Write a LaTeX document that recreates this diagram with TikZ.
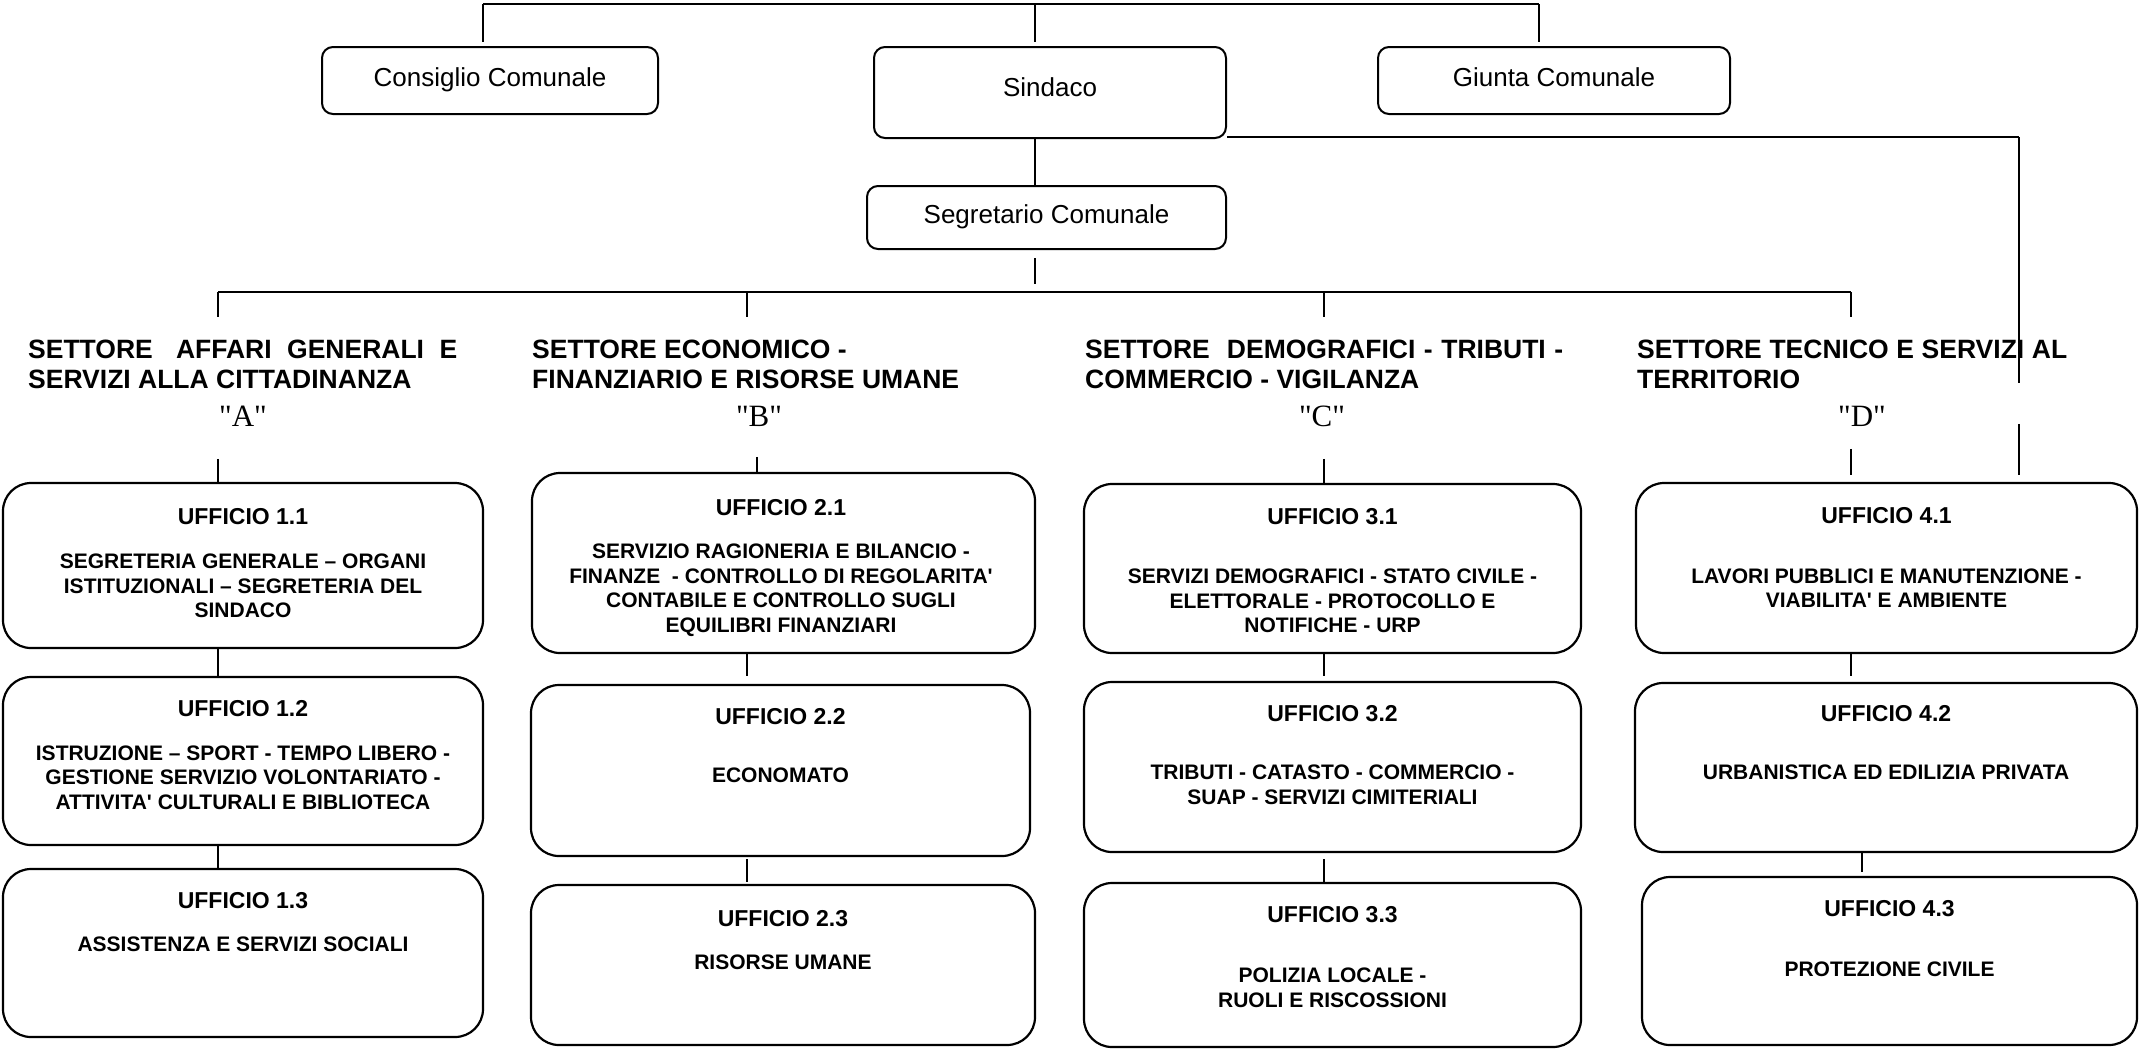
\documentclass[tikz,border=0pt]{standalone}
\usepackage{fontspec}
\setmainfont{Liberation Sans}
\newfontfamily\lserif{Liberation Serif}
\usetikzlibrary{calc}
\begin{document}
\begin{tikzpicture}[x=1pt,y=-1pt,
  frame/.style={draw, line width=2pt, rounded corners=11pt, inner sep=0pt},
  office/.style={draw, line width=2.2pt, rounded corners=28pt, inner sep=0pt},
  toptext/.style={font=\fontsize{26}{30}\selectfont, anchor=base, inner sep=0pt},
  ttl/.style={font=\fontsize{23}{26}\selectfont\bfseries, anchor=north, inner sep=0pt},
  bdy/.style={font=\fontsize{21}{24.5}\selectfont\bfseries, align=center, anchor=north, inner sep=0pt},
  head/.style={font=\fontsize{26.5}{30}\selectfont\bfseries, align=left, anchor=north west, inner sep=0pt},
  letter/.style={font=\lserif\fontsize{31}{31}\selectfont, anchor=north, inner sep=0pt},
  conn/.style={line width=1.6pt},
  bus/.style={line width=2.6pt}]
\fill[white] (0,0) rectangle (2140,1050);
\useasboundingbox (0,0) rectangle (2140,1050);

% ---- top level boxes
\node[frame, minimum width=336pt, minimum height=67pt] (cons) at (490,80.5) {};
\node[frame, minimum width=352pt, minimum height=91pt] (sind) at (1050,92.5) {};
\node[frame, minimum width=352pt, minimum height=67pt] (giun) at (1554,80.5) {};
\node[frame, minimum width=359pt, minimum height=63pt] (segr) at (1046.5,217.5) {};
\node[toptext] (tcons) at (490,86) {Consiglio Comunale};
\node[toptext] (tsind) at (1050,96) {Sindaco};
\node[toptext] (tgiun) at (1554,86) {Giunta Comunale};
\node[toptext] (tsegr) at (1046.5,223) {Segretario Comunale};

% ---- sector headings
\node[head] (hA) at (28,339.5) {\makebox[429pt][s]{SETTORE\ \ \ AFFARI\ \ GENERALI\ \ E}\\SERVIZI ALLA CITTADINANZA};
\node[head] (hB) at (532,339.5) {SETTORE ECONOMICO -\\FINANZIARIO E RISORSE UMANE};
\node[head] (hC) at (1085,339.5) {\makebox[478pt][s]{SETTORE\ \ DEMOGRAFICI - TRIBUTI -}\\COMMERCIO - VIGILANZA};
\node[head] (hD) at (1637,339.5) {\makebox[430pt][s]{SETTORE TECNICO E SERVIZI AL}\\TERRITORIO};
\node[letter] (lA) at (243,406) {"A"};
\node[letter] (lB) at (759,406) {"B"};
\node[letter] (lC) at (1322,406) {"C"};
\node[letter] (lD) at (1862,406) {"D"};

% ---- office boxes
\node[office, minimum width=480pt, minimum height=165pt] (u11) at (243,565.5) {};
\node[office, minimum width=480pt, minimum height=168pt] (u12) at (243,761) {};
\node[office, minimum width=480pt, minimum height=168pt] (u13) at (243,953) {};
\node[office, minimum width=503pt, minimum height=180pt] (u21) at (783.5,563) {};
\node[office, minimum width=499pt, minimum height=171pt] (u22) at (780.5,770.5) {};
\node[office, minimum width=504pt, minimum height=160pt] (u23) at (783,965) {};
\node[office, minimum width=497pt, minimum height=169pt] (u31) at (1332.5,568.5) {};
\node[office, minimum width=497pt, minimum height=170pt] (u32) at (1332.5,767) {};
\node[office, minimum width=497pt, minimum height=164pt] (u33) at (1332.5,965) {};
\node[office, minimum width=501pt, minimum height=170pt] (u41) at (1886.5,568) {};
\node[office, minimum width=502pt, minimum height=169pt] (u42) at (1886,767.5) {};
\node[office, minimum width=495pt, minimum height=168pt] (u43) at (1889.5,961) {};

% ---- office texts
\node[ttl] (t11) at (243,508.5) {UFFICIO 1.1};
\node[bdy] (b11) at (243,554) {SEGRETERIA GENERALE – ORGANI\\ISTITUZIONALI – SEGRETERIA DEL\\SINDACO};
\node[ttl] (t12) at (243,700.5) {UFFICIO 1.2};
\node[bdy] (b12) at (243,745.5) {ISTRUZIONE – SPORT - TEMPO LIBERO -\\GESTIONE SERVIZIO VOLONTARIATO -\\ATTIVITA\textquotesingle{} CULTURALI E BIBLIOTECA};
\node[ttl] (t13) at (243,892.5) {UFFICIO 1.3};
\node[bdy] (b13) at (243,936.5) {ASSISTENZA E SERVIZI SOCIALI};

\node[ttl] (t21) at (781,499.5) {UFFICIO 2.1};
\node[bdy] (b21) at (781,544) {SERVIZIO RAGIONERIA E BILANCIO -\\FINANZE~ - CONTROLLO DI REGOLARITA\textquotesingle\\CONTABILE E CONTROLLO SUGLI\\EQUILIBRI FINANZIARI};
\node[ttl] (t22) at (780.5,708.5) {UFFICIO 2.2};
\node[bdy] (b22) at (780.5,767.5) {ECONOMATO};
\node[ttl] (t23) at (783,910.5) {UFFICIO 2.3};
\node[bdy] (b23) at (783,954.5) {RISORSE UMANE};

\node[ttl] (t31) at (1332.5,508.5) {UFFICIO 3.1};
\node[bdy] (b31) at (1332.5,569) {SERVIZI DEMOGRAFICI - STATO CIVILE -\\ELETTORALE - PROTOCOLLO E\\NOTIFICHE - URP};
\node[ttl] (t32) at (1332.5,705.5) {UFFICIO 3.2};
\node[bdy] (b32) at (1332.5,765) {TRIBUTI - CATASTO - COMMERCIO -\\SUAP - SERVIZI CIMITERIALI};
\node[ttl] (t33) at (1332.5,906.5) {UFFICIO 3.3};
\node[bdy] (b33) at (1332.5,968) {POLIZIA LOCALE -\\RUOLI E RISCOSSIONI};

\node[ttl] (t41) at (1886.5,507.5) {UFFICIO 4.1};
\node[bdy] (b41) at (1886.5,568.5) {LAVORI PUBBLICI E MANUTENZIONE -\\VIABILITA\textquotesingle{} E AMBIENTE};
\node[ttl] (t42) at (1886,705.5) {UFFICIO 4.2};
\node[bdy] (b42) at (1886,765) {URBANISTICA ED EDILIZIA PRIVATA};
\node[ttl] (t43) at (1889.5,900.5) {UFFICIO 4.3};
\node[bdy] (b43) at (1889.5,961.5) {PROTEZIONE CIVILE};

% ---- connectors: top
\coordinate (tl) at (483,4);
\coordinate (tc) at (1035,4);
\coordinate (tr) at (1539,4);
\draw[bus] (tl) -- (tr);
\draw[conn, shorten >=4pt] (tl) -- (tl |- cons.north);
\draw[conn, shorten >=4pt] (tc) -- (tc |- sind.north);
\draw[conn, shorten >=4pt] (tr) -- (tr |- giun.north);
\draw[conn] (sind.south -| tc) -- (segr.north -| tc);
\draw[conn] ($(segr.south -| tc)+(0,8)$) -- ++(0,26);

% right branch from Sindaco to Ufficio 4.1
\coordinate (rc) at (2019,137);
\draw[bus] (sind.east |- rc) -- (rc);
\draw[conn] (rc) -- ++(0,246);
\draw[conn, shorten >=7pt] ($(rc |- u41.north)+(0,-58)$) -- (rc |- u41.north);

% sector bus
\coordinate (colA) at (218,292);
\coordinate (colB) at (747,292);
\coordinate (colC) at (1324,292);
\coordinate (colD) at (1851,292);
\draw[bus] (colA) -- (colD);
\foreach \c in {colA,colB,colC,colD} \draw[conn] (\c) -- ++(0,25);

% into first office of each sector
\draw[conn] ($(colA |- u11.north)+(0,-23)$) -- (colA |- u11.north);
\draw[conn] ($(u21.north)+(-26.5,-15)$) -- ($(u21.north)+(-26.5,0)$);
\draw[conn] ($(colC |- u31.north)+(0,-24)$) -- (colC |- u31.north);
\draw[conn, shorten >=7pt] ($(colD |- u41.north)+(0,-33)$) -- (colD |- u41.north);

% between offices
\draw[conn] (colA |- u11.south) -- (colA |- u12.north);
\draw[conn] (colA |- u12.south) -- (colA |- u13.north);
\draw[conn, shorten >=8pt] (colB |- u21.south) -- (colB |- u22.north);
\draw[conn, shorten <=2pt, shorten >=2pt] (colB |- u22.south) -- (colB |- u23.north);
\draw[conn, shorten >=5pt] (colC |- u31.south) -- (colC |- u32.north);
\draw[conn, shorten <=6pt] (colC |- u32.south) -- (colC |- u33.north);
\draw[conn, shorten >=6pt] (colD |- u41.south) -- (colD |- u42.north);
\draw[conn, shorten >=4pt] ($(u42.south)+(-24,0)$) -- ($(u43.north)+(-27.5,0)$);
\end{tikzpicture}
\end{document}
